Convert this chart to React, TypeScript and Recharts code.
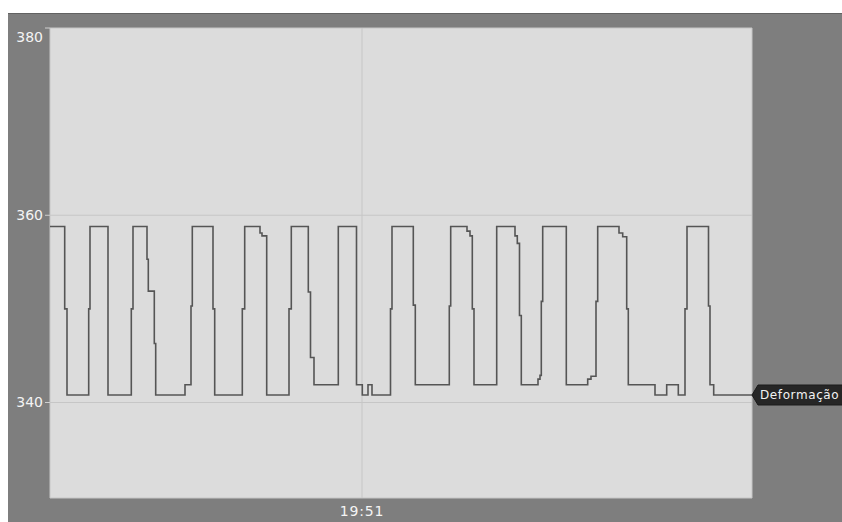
import { LineChart, Line, XAxis, YAxis, CartesianGrid } from "recharts";

// seconds from the start of the window, and the reading at that moment (step line)
const TIMES = [
  0, 14.7, 17, 38.7, 40, 58, 81.3, 83, 97, 98.3, 104.3, 105.7, 135, 141, 142.3,
  163, 164.7, 192.3, 194.7, 210, 212, 216.7, 239, 241.3, 258.3, 260.5, 264,
  288.3, 306.5, 312.3, 318, 322, 340.5, 342, 363.3, 365.3, 399.3, 400.7, 417,
  420, 422.3, 424, 446.7, 465, 467.3, 469.5, 471.3, 488, 490, 491.3, 492.7,
  516.3, 537.7, 541, 546, 547.7, 569, 572.7, 576.7, 578.3, 605, 616.7, 628.3,
  635, 637, 658.5, 660, 663.7, 702,
];
const DEFORMACAO = [
  358.8, 350, 340.8, 350, 358.8, 340.8, 350, 358.8, 355.3, 351.9, 346.3, 340.8, 341.9, 350.3, 358.8,
  350, 340.8, 350, 358.8, 358.1, 357.8, 340.8, 350, 358.8, 351.8, 344.8, 341.9,
  358.8, 341.9, 340.8, 341.9, 340.8, 350, 358.8, 350.4, 341.9, 350.3, 358.8, 358.3,
  357.8, 350, 341.9, 358.8, 357.8, 357, 349.3, 341.9, 342.5, 342.9, 350.8, 358.8,
  341.9, 342.5, 342.8, 350.8, 358.8, 358.1, 357.7, 350, 341.9, 340.8, 341.9, 340.8,
  350, 358.8, 350.3, 341.9, 340.8, 340.8,
];
const Y_TICKS = [340, 360, 380];
const X_TICKS = [312];
const X_LABELS = ["19:51"];
const SERIES_NAME = "Deformação";

const data = TIMES.map((t, i) => ({ t, v: DEFORMACAO[i] }));

const YTick = (props: any) => {
  const { x, y, payload } = props;
  // top label sits under its tick so it stays inside the frame
  const shift = payload.value === 380 ? 9 : 0;
  return (
    <text
      x={x}
      y={y + shift}
      dy="0.355em"
      textAnchor="end"
      fill="#f4f4f4"
      fontSize={14}
      fontFamily="DejaVu Sans"
    >
      {payload.value}
    </text>
  );
};

const EndTag = (props: any) => {
  const { x, y, index } = props;
  if (index !== data.length - 1) return null;
  const h = 20;
  const path = `M${x},${y} L${x + 6},${y - h / 2} L${x + 100},${y - h / 2} L${x + 100},${y + h / 2} L${x + 6},${y + h / 2} Z`;
  return (
    <g>
      <path d={path} fill="#262626" stroke="#1a1a1a" strokeWidth={1} />
      <text
        x={x + 8}
        y={y}
        dy="0.355em"
        fill="#f2f2f2"
        fontSize={12}
        fontFamily="DejaVu Sans"
        letterSpacing={0.6}
      >
        {SERIES_NAME}
      </text>
    </g>
  );
};

export default function App() {
  return (
    <div
      style={{
        position: "fixed",
        left: 8,
        top: 13,
        width: 834,
        height: 509,
        background: "#7e7e7e",
        borderTop: "1px solid #626262",
        boxSizing: "border-box",
      }}
    >
      <LineChart
        width={834}
        height={508}
        data={data}
        margin={{ top: 14, right: 90, bottom: 0, left: 0 }}
      >
        <CartesianGrid fill="#dcdcdc" stroke="#c6c6c6" strokeWidth={1} />
        <XAxis
          dataKey="t"
          type="number"
          domain={[0, 702]}
          ticks={X_TICKS}
          tickFormatter={(_v: number, i: number) => X_LABELS[i]}
          height={24}
          axisLine={false}
          tickLine={false}
          tickMargin={2}
          tick={{ fill: "#f4f4f4", fontSize: 14, fontFamily: "DejaVu Sans", letterSpacing: 0.8 }}
        />
        <YAxis
          domain={[329.8, 380]}
          ticks={Y_TICKS}
          width={42}
          axisLine={false}
          tickSize={5}
          tickMargin={2}
          tickLine={{ stroke: "#cfcfcf" }}
          tick={<YTick />}
        />
        <Line
          dataKey="v"
          type="stepAfter"
          stroke="#555555"
          strokeWidth={1.6}
          dot={false}
          isAnimationActive={false}
          label={<EndTag />}
        />
      </LineChart>
    </div>
  );
}
